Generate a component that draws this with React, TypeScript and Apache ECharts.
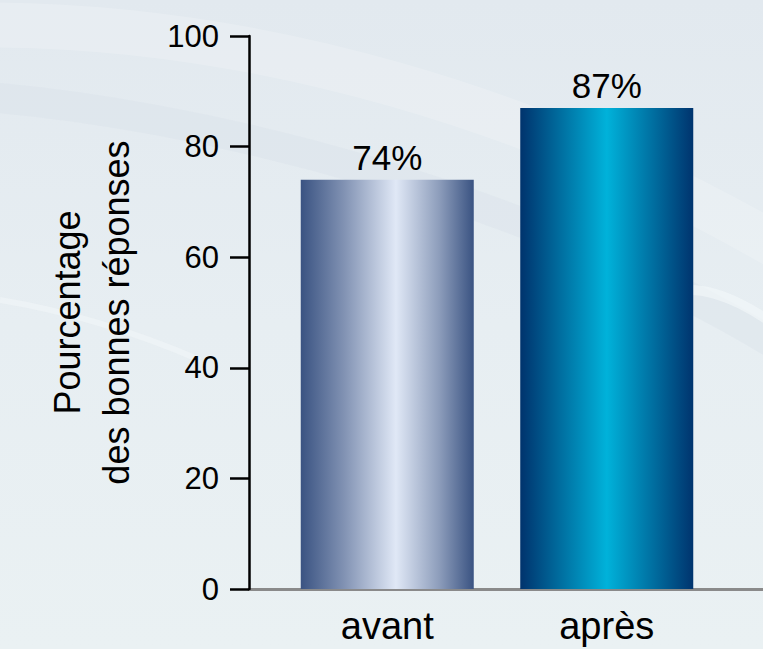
import React, { useEffect, useRef } from "react";
import * as echarts from "echarts";

const categories = ["avant", "après"];
const values = [74, 87];
const yTicks = { min: 0, max: 100, interval: 20 };
const yAxisTitle = "Pourcentage\ndes bonnes réponses";

const FONT = "Liberation Sans, Arial, Helvetica, sans-serif";

export default function App() {
  const ref = useRef<HTMLDivElement>(null);
  useEffect(() => {
    if (!ref.current) return;
    const chart = echarts.init(ref.current, null, { renderer: "svg" });
    const gradA = new echarts.graphic.LinearGradient(0, 0, 1, 0, [
      { offset: 0, color: "#3a5382" },
      { offset: 0.25, color: "#8192b3" },
      { offset: 0.55, color: "#e0e8f6" },
      { offset: 0.8, color: "#8d9dbb" },
      { offset: 1, color: "#3a5382" },
    ]);
    const gradB = new echarts.graphic.LinearGradient(0, 0, 1, 0, [
      { offset: 0, color: "#00336d" },
      { offset: 0.5, color: "#00b2da" },
      { offset: 1, color: "#00346e" },
    ]);
    const bg = new echarts.graphic.LinearGradient(0, 0, 0, 1, [
      { offset: 0, color: "#e2e9ef" },
      { offset: 0.5, color: "#e7eef2" },
      { offset: 1, color: "#eaf1f3" },
    ]);
    const option: any = {
      animation: false,
      backgroundColor: bg,
      graphic: [
        {
          type: "bezierCurve",
          silent: true,
          z: -10,
          shape: { x1: -40, y1: 25, x2: 800, y2: 260, cpx1: 250, cpy1: 20, cpx2: 550, cpy2: 110 },
          style: { stroke: "#ffffff", lineWidth: 45, opacity: 0.18, fill: null },
        },
        {
          type: "bezierCurve",
          silent: true,
          z: -10,
          shape: { x1: -40, y1: 95, x2: 800, y2: 360, cpx1: 200, cpy1: 110, cpx2: 550, cpy2: 200 },
          style: { stroke: "#d6e0e8", lineWidth: 30, opacity: 0.35, fill: null },
        },
        {
          type: "bezierCurve",
          silent: true,
          z: -10,
          shape: { x1: 690, y1: 290, x2: 800, y2: 345, cpx1: 720, cpy1: 290, cpx2: 760, cpy2: 310 },
          style: { stroke: "#f4f8fa", lineWidth: 10, opacity: 0.6, fill: null },
        },
        {
          type: "bezierCurve",
          silent: true,
          z: -10,
          shape: { x1: 0, y1: 300, x2: 200, y2: 360, cpx1: 60, cpy1: 310, cpx2: 130, cpy2: 330 },
          style: { stroke: "#f3f7f9", lineWidth: 6, opacity: 0.5, fill: null },
        },
      ],
      grid: [
        { left: 277.5, right: 46.5, top: 36, bottom: 60 },
        { left: 249, right: 0, top: 36, bottom: 60 },
      ],
      xAxis: [
        {
          type: "category",
          gridIndex: 0,
          data: categories,
          axisLine: { show: false },
          axisTick: { show: false },
          axisLabel: { color: "#000", fontSize: 38, fontFamily: FONT, margin: 18 },
          splitLine: { show: false },
        },
        {
          type: "value",
          gridIndex: 1,
          min: 0,
          max: 1,
          axisLine: { show: true, lineStyle: { color: "#8a8a8a", width: 3 } },
          axisTick: { show: false },
          axisLabel: { show: false },
          splitLine: { show: false },
        },
      ],
      yAxis: [
        {
          type: "value",
          gridIndex: 0,
          min: yTicks.min,
          max: yTicks.max,
          interval: yTicks.interval,
          show: false,
          splitLine: { show: false },
        },
        {
          type: "value",
          gridIndex: 1,
          min: yTicks.min,
          max: yTicks.max,
          interval: yTicks.interval,
          axisLine: { show: true, lineStyle: { color: "#000", width: 2.5 } },
          axisTick: { show: true, length: 19, lineStyle: { color: "#000", width: 2.5 } },
          axisLabel: { color: "#000", fontSize: 31, fontFamily: FONT, margin: 30 },
          splitLine: { show: false },
          name: yAxisTitle,
          nameLocation: "middle",
          nameGap: 108,
          nameRotate: 90,
          nameTextStyle: { color: "#000", fontSize: 36, fontFamily: FONT, lineHeight: 49 },
          z: 5,
        },
      ],
      series: [
        {
          type: "bar",
          xAxisIndex: 0,
          yAxisIndex: 0,
          barWidth: 173,
          data: values.map((v, i) => ({
            value: v,
            itemStyle: { color: i === 0 ? gradA : gradB },
          })),
          label: {
            show: true,
            position: "top",
            distance: 5,
            formatter: "{c}%",
            color: "#000",
            fontSize: 35,
            fontFamily: FONT,
          },
        },
      ],
    };
    chart.setOption(option);
    return () => chart.dispose();
  }, []);
  return <div ref={ref} style={{ width: 763, height: 649, position: "absolute", left: 0, top: 0 }} />;
}
